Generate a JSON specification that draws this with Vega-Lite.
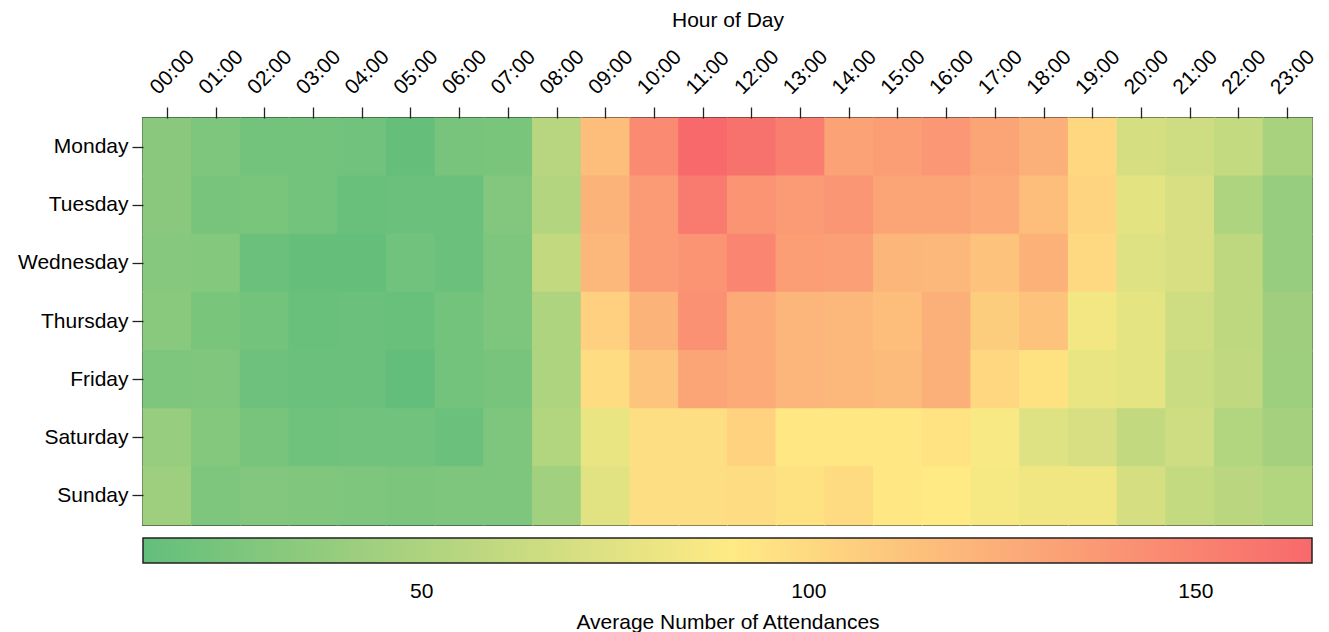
{
  "$schema": "https://vega.github.io/schema/vega-lite/v6.json",
  "width": 1169,
  "height": 407,
  "autosize": {"type": "none"},
  "padding": {"left": 143, "top": 118, "right": 17, "bottom": 107},
  "background": "white",
  "data": {"values": [
    {"day":"Monday","hour":"00:00","value":33},{"day":"Monday","hour":"01:00","value":27},{"day":"Monday","hour":"02:00","value":22},{"day":"Monday","hour":"03:00","value":22},{"day":"Monday","hour":"04:00","value":21},{"day":"Monday","hour":"05:00","value":15},{"day":"Monday","hour":"06:00","value":24},{"day":"Monday","hour":"07:00","value":25},{"day":"Monday","hour":"08:00","value":55},{"day":"Monday","hour":"09:00","value":116},{"day":"Monday","hour":"10:00","value":145},{"day":"Monday","hour":"11:00","value":165},{"day":"Monday","hour":"12:00","value":160},{"day":"Monday","hour":"13:00","value":153},{"day":"Monday","hour":"14:00","value":132},{"day":"Monday","hour":"15:00","value":134},{"day":"Monday","hour":"16:00","value":138},{"day":"Monday","hour":"17:00","value":130},{"day":"Monday","hour":"18:00","value":124},{"day":"Monday","hour":"19:00","value":101},{"day":"Monday","hour":"20:00","value":69},{"day":"Monday","hour":"21:00","value":66},{"day":"Monday","hour":"22:00","value":61},{"day":"Monday","hour":"23:00","value":48},
    {"day":"Tuesday","hour":"00:00","value":33},{"day":"Tuesday","hour":"01:00","value":24},{"day":"Tuesday","hour":"02:00","value":25},{"day":"Tuesday","hour":"03:00","value":22},{"day":"Tuesday","hour":"04:00","value":17},{"day":"Tuesday","hour":"05:00","value":18},{"day":"Tuesday","hour":"06:00","value":18},{"day":"Tuesday","hour":"07:00","value":29},{"day":"Tuesday","hour":"08:00","value":53},{"day":"Tuesday","hour":"09:00","value":122},{"day":"Tuesday","hour":"10:00","value":136},{"day":"Tuesday","hour":"11:00","value":155},{"day":"Tuesday","hour":"12:00","value":140},{"day":"Tuesday","hour":"13:00","value":136},{"day":"Tuesday","hour":"14:00","value":139},{"day":"Tuesday","hour":"15:00","value":131},{"day":"Tuesday","hour":"16:00","value":131},{"day":"Tuesday","hour":"17:00","value":127},{"day":"Tuesday","hour":"18:00","value":116},{"day":"Tuesday","hour":"19:00","value":103},{"day":"Tuesday","hour":"20:00","value":76},{"day":"Tuesday","hour":"21:00","value":70},{"day":"Tuesday","hour":"22:00","value":51},{"day":"Tuesday","hour":"23:00","value":39},
    {"day":"Wednesday","hour":"00:00","value":31},{"day":"Wednesday","hour":"01:00","value":30},{"day":"Wednesday","hour":"02:00","value":18},{"day":"Wednesday","hour":"03:00","value":15},{"day":"Wednesday","hour":"04:00","value":15},{"day":"Wednesday","hour":"05:00","value":21},{"day":"Wednesday","hour":"06:00","value":18},{"day":"Wednesday","hour":"07:00","value":27},{"day":"Wednesday","hour":"08:00","value":60},{"day":"Wednesday","hour":"09:00","value":119},{"day":"Wednesday","hour":"10:00","value":136},{"day":"Wednesday","hour":"11:00","value":140},{"day":"Wednesday","hour":"12:00","value":148},{"day":"Wednesday","hour":"13:00","value":134},{"day":"Wednesday","hour":"14:00","value":133},{"day":"Wednesday","hour":"15:00","value":120},{"day":"Wednesday","hour":"16:00","value":119},{"day":"Wednesday","hour":"17:00","value":113},{"day":"Wednesday","hour":"18:00","value":123},{"day":"Wednesday","hour":"19:00","value":100},{"day":"Wednesday","hour":"20:00","value":74},{"day":"Wednesday","hour":"21:00","value":70},{"day":"Wednesday","hour":"22:00","value":58},{"day":"Wednesday","hour":"23:00","value":39},
    {"day":"Thursday","hour":"00:00","value":32},{"day":"Thursday","hour":"01:00","value":25},{"day":"Thursday","hour":"02:00","value":22},{"day":"Thursday","hour":"03:00","value":17},{"day":"Thursday","hour":"04:00","value":18},{"day":"Thursday","hour":"05:00","value":17},{"day":"Thursday","hour":"06:00","value":22},{"day":"Thursday","hour":"07:00","value":27},{"day":"Thursday","hour":"08:00","value":51},{"day":"Thursday","hour":"09:00","value":105},{"day":"Thursday","hour":"10:00","value":122},{"day":"Thursday","hour":"11:00","value":142},{"day":"Thursday","hour":"12:00","value":127},{"day":"Thursday","hour":"13:00","value":121},{"day":"Thursday","hour":"14:00","value":119},{"day":"Thursday","hour":"15:00","value":116},{"day":"Thursday","hour":"16:00","value":124},{"day":"Thursday","hour":"17:00","value":107},{"day":"Thursday","hour":"18:00","value":113},{"day":"Thursday","hour":"19:00","value":83},{"day":"Thursday","hour":"20:00","value":77},{"day":"Thursday","hour":"21:00","value":66},{"day":"Thursday","hour":"22:00","value":58},{"day":"Thursday","hour":"23:00","value":43},
    {"day":"Friday","hour":"00:00","value":27},{"day":"Friday","hour":"01:00","value":28},{"day":"Friday","hour":"02:00","value":19},{"day":"Friday","hour":"03:00","value":18},{"day":"Friday","hour":"04:00","value":18},{"day":"Friday","hour":"05:00","value":14},{"day":"Friday","hour":"06:00","value":22},{"day":"Friday","hour":"07:00","value":24},{"day":"Friday","hour":"08:00","value":51},{"day":"Friday","hour":"09:00","value":98},{"day":"Friday","hour":"10:00","value":112},{"day":"Friday","hour":"11:00","value":130},{"day":"Friday","hour":"12:00","value":127},{"day":"Friday","hour":"13:00","value":121},{"day":"Friday","hour":"14:00","value":119},{"day":"Friday","hour":"15:00","value":118},{"day":"Friday","hour":"16:00","value":124},{"day":"Friday","hour":"17:00","value":101},{"day":"Friday","hour":"18:00","value":95},{"day":"Friday","hour":"19:00","value":79},{"day":"Friday","hour":"20:00","value":77},{"day":"Friday","hour":"21:00","value":64},{"day":"Friday","hour":"22:00","value":59},{"day":"Friday","hour":"23:00","value":42},
    {"day":"Saturday","hour":"00:00","value":39},{"day":"Saturday","hour":"01:00","value":30},{"day":"Saturday","hour":"02:00","value":24},{"day":"Saturday","hour":"03:00","value":20},{"day":"Saturday","hour":"04:00","value":21},{"day":"Saturday","hour":"05:00","value":21},{"day":"Saturday","hour":"06:00","value":18},{"day":"Saturday","hour":"07:00","value":27},{"day":"Saturday","hour":"08:00","value":52},{"day":"Saturday","hour":"09:00","value":79},{"day":"Saturday","hour":"10:00","value":97},{"day":"Saturday","hour":"11:00","value":97},{"day":"Saturday","hour":"12:00","value":104},{"day":"Saturday","hour":"13:00","value":91},{"day":"Saturday","hour":"14:00","value":91},{"day":"Saturday","hour":"15:00","value":91},{"day":"Saturday","hour":"16:00","value":94},{"day":"Saturday","hour":"17:00","value":86},{"day":"Saturday","hour":"18:00","value":74},{"day":"Saturday","hour":"19:00","value":70},{"day":"Saturday","hour":"20:00","value":60},{"day":"Saturday","hour":"21:00","value":66},{"day":"Saturday","hour":"22:00","value":52},{"day":"Saturday","hour":"23:00","value":46},
    {"day":"Sunday","hour":"00:00","value":42},{"day":"Sunday","hour":"01:00","value":27},{"day":"Sunday","hour":"02:00","value":29},{"day":"Sunday","hour":"03:00","value":28},{"day":"Sunday","hour":"04:00","value":27},{"day":"Sunday","hour":"05:00","value":26},{"day":"Sunday","hour":"06:00","value":27},{"day":"Sunday","hour":"07:00","value":27},{"day":"Sunday","hour":"08:00","value":44},{"day":"Sunday","hour":"09:00","value":75},{"day":"Sunday","hour":"10:00","value":97},{"day":"Sunday","hour":"11:00","value":97},{"day":"Sunday","hour":"12:00","value":98},{"day":"Sunday","hour":"13:00","value":95},{"day":"Sunday","hour":"14:00","value":99},{"day":"Sunday","hour":"15:00","value":92},{"day":"Sunday","hour":"16:00","value":90},{"day":"Sunday","hour":"17:00","value":85},{"day":"Sunday","hour":"18:00","value":82},{"day":"Sunday","hour":"19:00","value":82},{"day":"Sunday","hour":"20:00","value":69},{"day":"Sunday","hour":"21:00","value":61},{"day":"Sunday","hour":"22:00","value":56},{"day":"Sunday","hour":"23:00","value":52}
  ]},
  "mark": {"type": "rect", "width": {"band": 1.025}, "height": {"band": 1.02}},
  "encoding": {
    "x": {
      "field": "hour", "type": "ordinal", "sort": "ascending",
      "scale": {"paddingInner": 0, "paddingOuter": 0},
      "axis": {
        "orient": "top", "title": "Hour of Day",
        "labelAngle": -45, "labelAlign": "left", "labelBaseline": "alphabetic",
        "labelOffset": -9, "labelPadding": 12,
        "labelFontSize": 21, "labelColor": "black",
        "tickSize": 11, "tickColor": "#222", "tickWidth": 1.3,
        "domain": false,
        "titleFontSize": 21, "titleFontWeight": "normal", "titleColor": "black",
        "titleBaseline": "middle", "titleY": -98
      }
    },
    "y": {
      "field": "day", "type": "ordinal",
      "sort": ["Monday","Tuesday","Wednesday","Thursday","Friday","Saturday","Sunday"],
      "scale": {"paddingInner": 0, "paddingOuter": 0},
      "axis": {
        "title": null, "labelFontSize": 21, "labelColor": "black",
        "labelPadding": 4, "tickSize": 11, "tickColor": "#222", "tickWidth": 1.3,
        "domain": false
      }
    },
    "color": {
      "field": "value", "type": "quantitative",
      "scale": {"domain": [14, 89.5, 165], "range": ["#63BE7B", "#FFEB84", "#F8696B"], "interpolate": "rgb"},
      "legend": {
        "type": "gradient",
        "orient": "none", "legendX": 0, "legendY": 420,
        "direction": "horizontal", "gradientLength": 1169, "gradientThickness": 25,
        "gradientStrokeColor": "#222", "gradientStrokeWidth": 1.5,
        "values": [50, 100, 150],
        "labelFontSize": 21, "labelColor": "black", "labelOffset": 18,
        "title": "Average Number of Attendances", "titleLimit": 1000,
        "titleOrient": "bottom", "titleAnchor": "middle",
        "titleFontSize": 21, "titleFontWeight": "normal", "titleColor": "black",
        "titlePadding": 10
      }
    }
  },
  "config": {
    "font": "Liberation Sans",
    "view": {"stroke": "#222", "strokeWidth": 1.8}
  }
}
